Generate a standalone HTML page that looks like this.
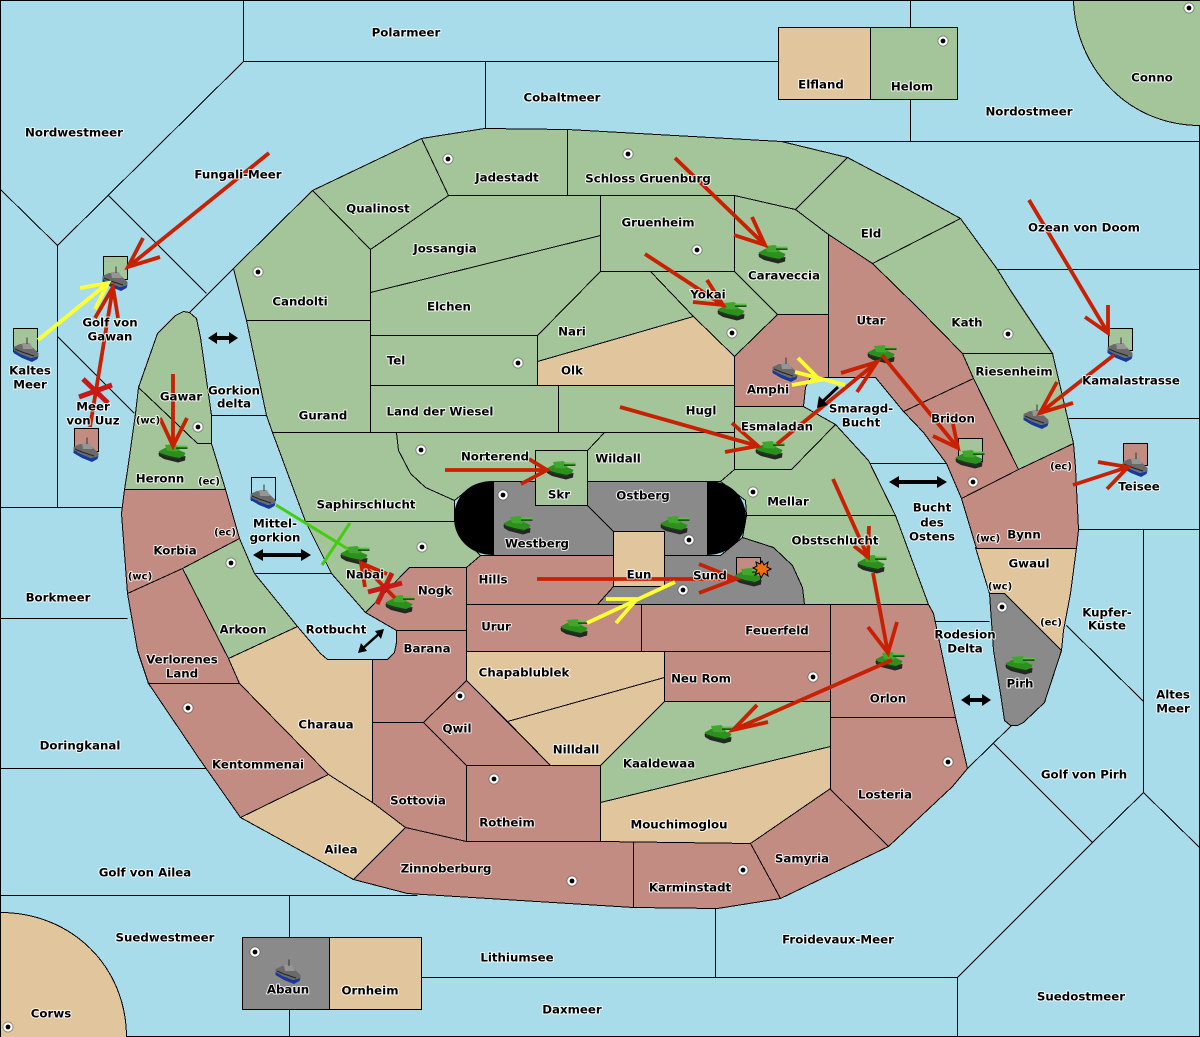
<!DOCTYPE html>
<html><head><meta charset="utf-8"><style>
html,body{margin:0;padding:0;background:#A8DCEA}
svg{display:block}
.l polygon,.l path,.l line,.l rect{stroke:#000;stroke-width:1;shape-rendering:crispEdges}
.g{fill:#A4C49A}.r{fill:#C28C82}.t{fill:#E1C59D}.k{fill:#8A8A8A}
text{font-family:"DejaVu Sans","Liberation Sans",sans-serif;font-weight:bold;font-size:11.8px;text-anchor:middle;fill:#000;stroke:#fff;stroke-opacity:.85;stroke-width:2px;paint-order:stroke;stroke-linejoin:round}
text.s{font-size:10px}
.a{fill:none;stroke-linecap:butt;stroke-linejoin:miter}
.red{stroke:#C82000;stroke-width:3.8}
.yel{stroke:#FFFF33;stroke-width:3.8}
</style></head><body>
<svg xmlns="http://www.w3.org/2000/svg" width="1200" height="1037" viewBox="0 0 1200 1037">
<defs>
<g id="tank">
<polygon points="-14.5,0 -14,3 -9,6 5,9.5 12,7.5 12.5,3 6,4 -4,2 -12,-2" fill="#262626"/>
<polygon points="-14.5,-1.5 -8,-5 1,-5 12.5,0 11,3 6,5 -4,3 -12,0.5" fill="#2C8F1E"/>
<polygon points="-8,-8 2,-9 8,-5 4,-1.5 -6,-2" fill="#3FA82C"/>
<rect x="3" y="-7.4" width="11.5" height="1.7" fill="#5CC048"/>
<rect x="3" y="-5.7" width="11.5" height="1.7" fill="#175A0E"/>
<path d="M-13,1 L-4,4 L7,6" stroke="#124A0C" fill="none"/>
</g>
<g id="ship">
<polygon points="-12.5,0 -5,4 5,8 12.5,6 11.5,9 6,12 -4,8 -12.5,3" fill="#16399A"/>
<polygon points="-12.5,-3 -6,-6 4,-5 12.5,3 12.5,6 5,8 -5,4 -12.5,0" fill="#6A6A6A"/>
<polygon points="-4,-7 4,-7 7,-1 -3,-1" fill="#959595"/>
<path d="M1,-12.5 V-6" stroke="#333" fill="none"/>
<path d="M-11,-1 L-4,2 L8,6" stroke="#262626" fill="none"/>
</g>
<g id="sc"><circle r="5" fill="#fff" stroke="#000" stroke-width="1" stroke-opacity=".35"/><circle r="2.4" fill="#000"/></g>
</defs>
<rect width="1200" height="1037" fill="#A8DCEA"/>
<g class="l" transform="translate(.5,.5)">
<rect x="0" y="0" width="1199" height="1036" fill="none"/>
<path fill="none" d="M243,0 V61 L57,245 L0,189 M57,245 V507 M108,195 L206,293 M233,268 L189,312 M57,336 L134,413 M243,61 H778 M485,61 V128 M910,0 V27 M910,99 V141 M781,141 H1200 M997,269 H1200 M1068,418 H1200 M1078,529 H1200 M1143,529 V792 L1200,848 M1143,792 L1092,842 L993,743 M1011,725 L967,768 M1092,842 L957,977 V1037 M1066,625 L1143,701 M421,977 H957 M715,906 V977 M0,507 H121 M0,618 H127 M0,768 H205 M0,895 H417 M289,895 V937 M289,1009 V1037 M211,415 H266 M255,573 H331 M934,621 H989 M869,463 H946"/>
<path class="g" d="M1073,0 C1075,65 1125,125 1200,125 V0 Z"/>
<path class="t" d="M0,912 C70,912 126,965 126,1037 H0 Z"/>
<rect class="t" x="778" y="27" width="92" height="72"/>
<rect class="g" x="870" y="27" width="87" height="72"/>
<rect class="k" x="242" y="937" width="87" height="72"/>
<rect class="t" x="329" y="937" width="92" height="72"/>
<polygon class="g" points="157,333 175,315 183,311 189,312 196,318 200,337 211,415 211,443 197,443 138,387"/>
<polygon class="g" points="138,387 197,443 211,443 225,489 124,489 127,470 135,413"/>
<polygon class="r" points="124,489 225,489 239,538 182,568 127,593 121,513"/>
<polygon class="g" points="182,568 239,538 254,573 297,626 228,658"/>
<polygon class="r" points="127,593 182,568 228,658 239,683 148,683 137,650"/>
<polygon class="r" points="148,683 239,683 328,774 240,817 200,760"/>
<polygon class="t" points="228,658 297,626 320,653 327,659 372,659 372,802 328,774 239,683"/>
<polygon class="t" points="328,774 372,802 405,827 353,879 300,850 240,817"/>
<polygon class="r" points="405,827 466,841 633,841 633,907 520,900 407,893 353,879"/>
<polygon class="r" points="633,841 750,843 780,898 717,908 633,907"/>
<polygon class="r" points="750,843 829,788 888,846 780,898"/>
<polygon class="r" points="829,717 955,717 967,768 952,786 888,846 829,788"/>
<polygon class="r" points="829,604 928,604 933,613 955,717 829,717"/>
<polygon class="r" points="641,604 830,604 830,651 641,651"/>
<polygon class="r" points="664,651 830,651 830,701 664,701"/>
<polygon class="r" points="466,604 641,604 641,651 466,651"/>
<polygon class="r" points="466,567 480,555 613,555 613,586 597,604 466,604"/>
<polygon class="r" points="365,612 409,567 466,567 466,630 396,630"/>
<polygon class="r" points="396,630 466,630 466,680 423,722 372,722 372,659 387,659 394,652 396,642"/>
<polygon class="r" points="466,680 550,765 466,765 423,722"/>
<polygon class="r" points="372,722 423,722 466,765 466,841 405,827 372,802"/>
<polygon class="r" points="466,765 600,765 600,841 466,841"/>
<polygon class="t" points="466,651 664,651 664,677 507,721 466,680"/>
<polygon class="t" points="507,721 664,677 664,701 600,765 550,765"/>
<polygon class="g" points="664,701 830,701 830,746 600,802 600,765"/>
<polygon class="t" points="600,802 830,746 830,788 750,843 600,841"/>
<polygon class="k" points="989,593 1004,593 1061,650 1044,702 1023,722 1017,725 1010,725 1004,720 1000,693 993,650"/>
<polygon class="t" points="975,547 1076,547 1070,593 1063,630 1061,650 1004,593 989,593"/>
<polygon class="r" points="1073,443 1018,469 961,498 976,548 1076,548 1078,529 1075,467"/>
<polygon class="r" points="973,378 903,411 923,432 946,463 961,498 1018,469"/>
<polygon class="g" points="962,353 1052,353 1063,400 1073,443 1018,469 973,378"/>
<polygon class="g" points="960,218 872,263 917,307 962,353 1052,353 1010,290 997,269"/>
<polygon class="g" points="847,157 900,185 960,218 872,263 828,234 795,209"/>
<polygon class="r" points="828,234 872,263 917,307 962,353 973,378 903,411 875,377 828,377"/>
<polygon class="r" points="777,314 828,314 828,377 810,377 805,387 803,406 734,406 734,356"/>
<polygon class="g" points="734,406 803,406 835,424 791,469 734,469"/>
<polygon class="g" points="604,432 734,432 734,469 720,481 587,481 587,450"/>
<polygon class="g" points="734,469 791,469 835,424 868,460 895,515 746,515 745,500 720,481"/>
<polygon class="g" points="746,515 895,515 928,604 804,604 802,587 792,565 773,547 742,537"/>
<polygon class="k" points="597,604 613,586 664,586 664,555 720,555 742,537 773,547 792,565 802,587 804,604"/>
<polygon class="g" points="312,190 370,249 370,320 246,320 233,268"/>
<polygon class="g" points="246,320 370,320 370,432 272,432 266,415"/>
<polygon class="g" points="421,138 312,190 370,249 448,195"/>
<polygon class="g" points="421,138 484,128 567,129 567,195 448,195"/>
<polygon class="g" points="567,129 781,141 847,157 795,209 734,195 567,195"/>
<polygon class="g" points="600,195 734,195 734,271 600,271"/>
<polygon class="g" points="448,195 600,195 600,235 370,292 370,249"/>
<polygon class="g" points="370,292 600,235 600,271 537,335 370,335"/>
<polygon class="g" points="370,335 537,335 537,385 370,385"/>
<polygon class="g" points="600,271 650,271 693,316 537,361 537,335"/>
<polygon class="t" points="537,361 693,316 734,356 734,385 537,385"/>
<polygon class="g" points="650,271 734,271 777,314 734,356 693,316"/>
<polygon class="g" points="734,195 795,209 828,234 828,314 777,314 734,271"/>
<polygon class="g" points="370,385 558,385 558,432 370,432"/>
<polygon class="g" points="558,385 734,385 734,432 558,432"/>
<polygon class="g" points="396,432 604,432 587,450 535,450 535,481 493,481 470,487 454,500 425,487 410,473 398,450"/>
<polygon class="g" points="272,432 396,432 398,450 410,473 425,487 454,500 454,521 305,521"/>
<polygon class="g" points="305,521 454,521 470,545 480,555 466,567 409,567 365,612 331,573"/>
<polygon class="k" points="493,481 535,481 535,505 587,505 613,531 613,555 493,555"/>
<polygon class="k" points="587,481 707,481 707,555 664,555 664,531 613,531 587,505"/>
<rect class="g" x="535" y="450" width="52" height="55"/>
<rect class="t" x="613" y="531" width="51" height="55"/>
<rect class="g" x="103" y="256" width="24" height="23"/>
<rect class="g" x="13" y="328" width="24" height="23"/>
<rect class="r" x="74" y="428" width="24" height="23"/>
<rect class="g" x="1108" y="328" width="24" height="22"/>
<rect class="r" x="1123" y="443" width="24" height="22"/>
<rect fill="#A8DCEA" x="251" y="477" width="24" height="23"/>
<rect class="g" x="958" y="438" width="24" height="23"/>
<rect class="r" x="736" y="557" width="24" height="23"/>
</g>
<path d="M493,481 C468,481 454,498 454,518 C454,538 470,555 493,555 Z M707,481 C732,481 746,498 746,518 C746,538 730,555 707,555 Z" fill="#000"/>

<g fill="#000">
<use href="#sc" x="258" y="272"/><use href="#sc" x="448" y="159"/><use href="#sc" x="628" y="154"/><use href="#sc" x="697" y="250"/><use href="#sc" x="732" y="333"/><use href="#sc" x="518" y="363"/><use href="#sc" x="1008" y="334"/><use href="#sc" x="421" y="450"/><use href="#sc" x="503" y="495"/><use href="#sc" x="689" y="540"/><use href="#sc" x="753" y="492"/><use href="#sc" x="683" y="590"/><use href="#sc" x="422" y="547"/><use href="#sc" x="231" y="563"/><use href="#sc" x="198" y="427"/><use href="#sc" x="973" y="482"/><use href="#sc" x="188" y="708"/><use href="#sc" x="460" y="696"/><use href="#sc" x="494" y="779"/><use href="#sc" x="572" y="881"/><use href="#sc" x="743" y="870"/><use href="#sc" x="813" y="677"/><use href="#sc" x="948" y="762"/><use href="#sc" x="1002" y="607"/><use href="#sc" x="943" y="41"/><use href="#sc" x="1189" y="8"/><use href="#sc" x="255" y="952"/><use href="#sc" x="8" y="1027"/>
</g>

<use href="#tank" x="773" y="254"/><use href="#tank" x="732" y="311"/><use href="#tank" x="173" y="453"/><use href="#tank" x="355" y="555"/><use href="#tank" x="400" y="604"/><use href="#tank" x="561" y="470"/><use href="#tank" x="518" y="525"/><use href="#tank" x="675" y="525"/><use href="#tank" x="749" y="577"/><use href="#tank" x="575" y="628"/><use href="#tank" x="872" y="564"/><use href="#tank" x="890" y="661"/><use href="#tank" x="719" y="734"/><use href="#tank" x="1020" y="665"/><use href="#tank" x="770" y="450"/><use href="#tank" x="882" y="354"/><use href="#tank" x="970" y="459"/>
<use href="#ship" x="115" y="279"/><use href="#ship" x="26" y="350"/><use href="#ship" x="86" y="450"/><use href="#ship" x="785" y="370"/><use href="#ship" x="263" y="497"/><use href="#ship" x="1120" y="350"/><use href="#ship" x="1036" y="417"/><use href="#ship" x="1135" y="465"/><use href="#ship" x="288" y="972"/>

<polygon points="762,561 764,565 768,562 767,567 771,569 767,571 768,576 764,573 761,578 759,573 755,575 757,570 753,568 757,566 756,562 760,564" fill="#F07010" stroke="#000" stroke-width="1"/>

<g class="a red">
<path d="M269,153 L128,267 M143,238 L128,267 L160,257"/>
<path d="M675,158 L765,245 M752,217 L765,245 L734,235"/>
<path d="M645,254 L723,305 M707,280 L723,305 L693,302"/>
<path d="M620,407 L758,446 M732,423 L758,446 L725,452"/>
<path d="M777,444 L877,362 M841,373 L877,362 L857,392"/>
<path d="M882,355 L958,448 M953,424 L958,448 L933,436"/>
<path d="M1029,200 L1108,333 M1108,305 L1108,333 L1085,317"/>
<path d="M1114,355 L1040,413 M1057,382 L1040,413 L1073,403"/>
<path d="M1073,485 L1128,467 M1098,462 L1128,467 L1107,489"/>
<path d="M173,374 L173,446 M160,418 L173,446 L187,418"/>
<path d="M445,470 L547,470 M529,459 L547,470 L521,484"/>
<path d="M537,579 L736,579 M699,564 L736,579 L699,593"/>
<path d="M833,479 L868,557 M869,526 L868,557 L854,546"/>
<path d="M873,573 L888,653 M868,627 L888,653 L897,622"/>
<path d="M892,660 L733,730 M757,705 L733,730 L768,722"/>
<path d="M90,427 L113,287 M95,318 L113,287 L118,318"/>
<path d="M395,598 L361,563 M365,587 L361,563 L387,574"/>
</g>
<g class="a" stroke="#C81818" stroke-width="5">
<path d="M79,397 L112,385 M83,379 L108,403"/>
<path d="M368,592 L402,583 M377,604 L392,573"/>
</g>
<g class="a yel">
<path d="M38,340 L108,283 M80,288 L108,283 L95,309"/>
<path d="M795,372 L845,385 M798,358 L820,380 L792,385"/>
<path d="M587,623 L675,582 M606,599 L637,599 L616,623"/>
</g>
<g class="a" stroke="#44CC11" stroke-width="3">
<path d="M276,505 L348,549 M350,523 L322,565"/>
</g>
<path d="M838,387 L821,403" stroke="#000" stroke-width="3" fill="none"/>
<polygon points="817,408 819,396 828,405" fill="#000"/>
<g fill="#000">
<polygon points="208,338 217,332 217,336 229,336 229,332 238,338 229,344 229,340 217,340 217,344"/>
<polygon points="253,555 263,549 263,553 301,553 301,549 311,555 301,561 301,557 263,557 263,561"/>
<polygon points="889,482 899,476 899,480 937,480 937,476 947,482 937,488 937,484 899,484 899,488"/>
<polygon points="961,700 970,694 970,698 982,698 982,694 991,700 982,706 982,702 970,702 970,706"/>
</g>
<path d="M361,650 L381,632" stroke="#000" stroke-width="2.5"/>
<polygon points="358,653 361,643 367,651" fill="#000"/>
<polygon points="384,629 381,639 375,631" fill="#000"/>

<g transform="translate(0,.4)">
<text x="406" y="36">Polarmeer</text><text x="562" y="101">Cobaltmeer</text><text x="821" y="88">Elfland</text><text x="912" y="90">Helom</text><text x="1152" y="81">Conno</text><text x="1029" y="115">Nordostmeer</text><text x="74" y="136">Nordwestmeer</text><text x="238" y="178">Fungali-Meer</text><text x="378" y="212">Qualinost</text><text x="507" y="181">Jadestadt</text><text x="648" y="182">Schloss Gruenburg</text><text x="658" y="226">Gruenheim</text><text x="445" y="252">Jossangia</text><text x="871" y="237">Eld</text><text x="1084" y="231">Ozean von Doom</text><text x="784" y="279">Caraveccia</text><text x="300" y="305">Candolti</text><text x="449" y="310">Elchen</text><text x="708" y="298">Yokai</text><text x="572" y="335">Nari</text><text x="871" y="324">Utar</text><text x="967" y="326">Kath</text>
<text x="110" y="326">Golf von</text><text x="110" y="340">Gawan</text><text x="396" y="364">Tel</text><text x="572" y="374">Olk</text><text x="1014" y="375">Riesenheim</text><text x="30" y="374">Kaltes</text><text x="30" y="388">Meer</text><text x="1131" y="384">Kamalastrasse</text><text x="768" y="393">Amphi</text><text x="181" y="400">Gawar</text><text x="234" y="394">Gorkion</text><text x="234" y="407">delta</text><text x="93" y="410">Meer</text><text x="93" y="424">von Uuz</text><text x="701" y="414">Hugl</text><text x="440" y="415">Land der Wiesel</text><text x="323" y="419">Gurand</text><text x="861" y="412">Smaragd-</text><text x="861" y="426">Bucht</text><text x="953" y="422">Bridon</text><text class="s" x="148" y="423">(wc)</text><text x="777" y="430">Esmaladan</text><text x="495" y="460">Norterend</text><text x="618" y="462">Wildall</text><text class="s" x="1061" y="469">(ec)</text><text x="559" y="498">Skr</text><text x="160" y="482">Heronn</text><text class="s" x="209" y="484">(ec)</text><text x="1139" y="490">Teisee</text><text x="643" y="499">Ostberg</text><text x="788" y="505">Mellar</text><text x="366" y="508">Saphirschlucht</text>
<text x="932" y="511">Bucht</text><text x="932" y="526">des</text><text x="932" y="540">Ostens</text><text x="275" y="527">Mittel-</text><text x="275" y="541">gorkion</text><text class="s" x="225" y="535">(ec)</text><text x="1024" y="538">Bynn</text><text class="s" x="988" y="541">(wc)</text><text x="537" y="547">Westberg</text><text x="835" y="544">Obstschlucht</text><text x="175" y="554">Korbia</text><text x="1029" y="567">Gwaul</text><text x="365" y="578">Nabai</text><text class="s" x="140" y="579">(wc)</text><text x="639" y="578">Eun</text><text x="710" y="579">Sund</text><text x="493" y="583">Hills</text><text class="s" x="1000" y="589">(wc)</text><text x="435" y="594">Nogk</text><text x="58" y="601">Borkmeer</text><text x="1107" y="616">Kupfer-</text><text x="1107" y="629">Küste</text><text class="s" x="1051" y="625">(ec)</text><text x="496" y="630">Urur</text><text x="243" y="633">Arkoon</text><text x="336" y="633">Rotbucht</text><text x="777" y="634">Feuerfeld</text><text x="965" y="638">Rodesion</text><text x="965" y="652">Delta</text><text x="427" y="652">Barana</text><text x="182" y="663">Verlorenes</text><text x="182" y="677">Land</text><text x="524" y="676">Chapablublek</text><text x="701" y="682">Neu Rom</text><text x="1020" y="687">Pirh</text><text x="1173" y="698">Altes</text><text x="1173" y="712">Meer</text><text x="888" y="702">Orlon</text><text x="326" y="728">Charaua</text><text x="457" y="732">Qwil</text><text x="80" y="749">Doringkanal</text><text x="576" y="753">Nilldall</text><text x="659" y="767">Kaaldewaa</text><text x="258" y="768">Kentommenai</text><text x="1084" y="778">Golf von Pirh</text><text x="885" y="798">Losteria</text><text x="418" y="804">Sottovia</text><text x="507" y="826">Rotheim</text><text x="679" y="828">Mouchimoglou</text><text x="341" y="853">Ailea</text><text x="802" y="862">Samyria</text><text x="446" y="872">Zinnoberburg</text><text x="145" y="876">Golf von Ailea</text><text x="690" y="891">Karminstadt</text><text x="165" y="941">Suedwestmeer</text><text x="838" y="943">Froidevaux-Meer</text><text x="517" y="961">Lithiumsee</text><text x="288" y="993">Abaun</text><text x="370" y="994">Ornheim</text><text x="1081" y="1000">Suedostmeer</text><text x="572" y="1013">Daxmeer</text><text x="51" y="1017">Corws</text>
</g>
</svg>
</body></html>
